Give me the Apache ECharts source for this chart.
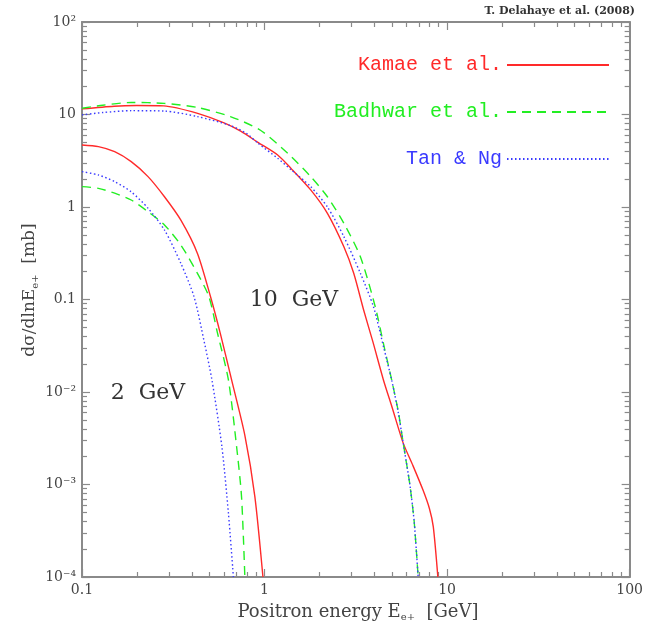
<!DOCTYPE html>
<html><head><meta charset="utf-8">
<script src="https://cdn.jsdelivr.net/npm/echarts@6/dist/echarts.min.js"></script>
<style>html,body{margin:0;padding:0;background:#fff}#c{width:646px;height:636px}</style>
</head><body><div id="c"></div>
<script>
// ---- axis ticks ----
const xTicks = [0.1, 1, 10, 100];
const xTickLabels = ['0.1', '1', '10', '100'];
const yTicks = [1e-4, 1e-3, 1e-2, 0.1, 1, 10, 100];
const yTickLabels = ['10⁻⁴', '10⁻³', '10⁻²', '0.1', '1', '10', '10²'];
const xMinorTicks = [0.2, 0.3, 0.4, 0.5, 0.6, 0.7, 0.8, 0.9, 2, 3, 4, 5, 6, 7, 8, 9, 20, 30, 40, 50, 60, 70, 80, 90];
const yMinorTicks = [2e-4, 3e-4, 4e-4, 5e-4, 6e-4, 7e-4, 8e-4, 9e-4, 2e-3, 3e-3, 4e-3, 5e-3, 6e-3, 7e-3, 8e-3, 9e-3,
  0.02, 0.03, 0.04, 0.05, 0.06, 0.07, 0.08, 0.09, 0.2, 0.3, 0.4, 0.5, 0.6, 0.7, 0.8, 0.9,
  2, 3, 4, 5, 6, 7, 8, 9, 20, 30, 40, 50, 60, 70, 80, 90];
const legendNames = ['Kamae et al.', 'Badhwar et al.', 'Tan & Ng'];

// ---- 10 GeV proton ----
const kamae10E = [0.1, 0.15, 0.2, 0.28, 0.43, 0.6, 0.74, 0.92, 1.18, 1.4, 1.79, 2.21, 2.72, 3.08, 3.49, 3.92, 4.48, 5.0, 5.75, 6.5, 7.38, 8.0, 8.4, 8.9];
const kamae10V = [11.5, 12.3, 12.5, 12.4, 10.3, 8.1, 6.6, 5.0, 3.65, 2.6, 1.53, 0.855, 0.372, 0.192, 0.077, 0.035, 0.0135, 0.0068, 0.0028, 0.0016, 0.00087, 0.00055, 0.00035, 0.0001];
const badhwar10E = [0.1, 0.13, 0.186, 0.282, 0.429, 0.65, 0.945, 1.34, 1.79, 2.21, 2.72, 3.35, 4.04, 4.56, 4.97, 5.4, 5.75, 6.25, 6.6, 6.94];
const badhwar10V = [11.7, 12.6, 13.5, 13.2, 11.9, 9.5, 6.8, 3.81, 2.13, 1.29, 0.667, 0.29, 0.0836, 0.0285, 0.0135, 0.0062, 0.0028, 0.001, 0.0004, 0.0001];
const tan10E = [0.1, 0.13, 0.186, 0.282, 0.429, 0.65, 0.8, 0.92, 1.18, 1.4, 1.79, 2.21, 2.72, 3.35, 3.95, 4.5, 4.97, 5.4, 5.75, 6.25, 6.6, 6.94];
const tan10V = [9.9, 10.5, 11.0, 10.9, 9.5, 7.6, 6.2, 4.9, 3.36, 2.52, 1.66, 1.0, 0.478, 0.192, 0.0836, 0.03, 0.0135, 0.006, 0.0028, 0.001, 0.0004, 0.0001];

// ---- 2 GeV proton ----
const kamae2E = [0.1, 0.123, 0.151, 0.186, 0.23, 0.283, 0.348, 0.429, 0.506, 0.574, 0.66, 0.78, 0.885, 0.98];
const kamae2V = [4.68, 4.49, 3.96, 3.09, 2.13, 1.29, 0.72, 0.315, 0.107, 0.042, 0.0135, 0.0034, 0.00074, 0.0001];
const badhwar2E = [0.1, 0.123, 0.151, 0.186, 0.23, 0.283, 0.348, 0.429, 0.496, 0.55, 0.634, 0.703, 0.748, 0.78];
const badhwar2V = [1.66, 1.59, 1.41, 1.19, 0.89, 0.64, 0.388, 0.192, 0.107, 0.045, 0.0135, 0.00256, 0.00074, 0.0001];
const tan2E = [0.1, 0.123, 0.151, 0.186, 0.23, 0.283, 0.348, 0.411, 0.465, 0.515, 0.584, 0.634, 0.675];
const tan2V = [2.41, 2.22, 1.88, 1.46, 0.97, 0.564, 0.246, 0.107, 0.0365, 0.0135, 0.00256, 0.00049, 0.0001];

const RED = '#ff2a2a', GREEN = '#22ee22', BLUE = '#3a3aff';
const FONT = 'DejaVu Serif';
const MONO = 'Liberation Mono';
const axisGray = '#8a8a8a';
const pairs = (e, v) => e.map((x, i) => [x, v[i]]);

const styles = {
  'Kamae et al.': { color: RED, type: 'solid' },
  'Badhwar et al.': { color: GREEN, type: [9, 6] },
  'Tan & Ng': { color: BLUE, type: [1.5, 2.5] }
};
function mk(name, e, v) {
  const s = styles[name];
  return { type: 'line', name, data: pairs(e, v), showSymbol: false, symbol: 'none',
    xAxisIndex: 0, yAxisIndex: 0, smooth: 0.25,
    lineStyle: { color: s.color, width: 1.4, type: s.type }, itemStyle: { color: s.color }, z: 3 };
}

const chart = echarts.init(document.getElementById('c'), null, { renderer: 'canvas' });
const lbl = (ticks, labels) => v => { const i = ticks.findIndex(t => Math.abs(Math.log10(t) - Math.log10(v)) < 1e-6); return i >= 0 ? labels[i] : ''; };
const baseAxis = (pos, show, ticks, labels) => ({
  type: 'log', logBase: 10, position: pos,
  axisLine: { onZero: false, lineStyle: { color: axisGray, width: 2 } },
  axisTick: { inside: true, length: 8, lineStyle: { color: axisGray, width: 1.2 } },
  splitLine: { show: false },
  axisLabel: show ? { margin: 6, fontFamily: FONT, fontSize: 14, color: '#444', formatter: lbl(ticks, labels) } : { show: false }
});
// auxiliary axes in decade units carrying only the 2..9 minor ticks
const minorAxis = (pos, min, max, values) => ({
  type: 'value', position: pos, min, max, offset: 0,
  axisLine: { show: false, onZero: false },
  axisTick: { show: true, inside: true, length: 5, customValues: values.map(v => Math.log10(v)), lineStyle: { color: axisGray, width: 1.2 } },
  axisLabel: { show: false }, splitLine: { show: false }
});
const opt = {
  animation: false,
  grid: { left: 82, right: 10, top: 22, bottom: 59 },
  xAxis: [
    Object.assign(baseAxis('bottom', true, xTicks, xTickLabels), { min: 0.1, max: 100 }),
    Object.assign(baseAxis('top', false), { min: 0.1, max: 100 }),
    minorAxis('bottom', -1, 2, xMinorTicks),
    minorAxis('top', -1, 2, xMinorTicks)
  ],
  yAxis: [
    Object.assign(baseAxis('left', true, yTicks, yTickLabels), { min: 1e-4, max: 100 }),
    Object.assign(baseAxis('right', false), { min: 1e-4, max: 100 }),
    minorAxis('left', -4, 2, yMinorTicks),
    minorAxis('right', -4, 2, yMinorTicks)
  ],
  legend: {
    orient: 'vertical', right: 31, top: 50, align: 'right', itemWidth: 102, itemHeight: 16, itemGap: 27,
    textStyle: { fontFamily: MONO, fontSize: 20 },
    itemStyle: { opacity: 0 },
    data: legendNames.map(n => ({ name: n, textStyle: { color: styles[n].color } })),
    selectedMode: false
  },
  graphic: { elements: [
    { type: 'text', x: 635, y: 11, style: { text: 'T. Delahaye et al. (2008)', font: 'bold 11px "DejaVu Serif"', fill: '#333', align: 'right', verticalAlign: 'middle' } },
    { type: 'text', x: 294, y: 300, style: { text: '10  GeV', font: '22px "DejaVu Serif"', fill: '#333', align: 'center', verticalAlign: 'middle' } },
    { type: 'text', x: 148, y: 393, style: { text: '2  GeV', font: '22px "DejaVu Serif"', fill: '#333', align: 'center', verticalAlign: 'middle' } },
    { type: 'text', x: 358, y: 612, style: {
      text: 'Positron energy E{s|e+}  [GeV]', font: '18px "DejaVu Serif"', fill: '#444', align: 'center', verticalAlign: 'middle',
      rich: { s: { font: '10px "DejaVu Serif"', fill: '#444', padding: [10, 0, 0, 0] } } } },
    { type: 'text', x: 30, y: 290, rotation: Math.PI / 2, style: {
      text: 'dσ/dlnE{s|e+}  [mb]', font: '17px "DejaVu Serif"', fill: '#444', align: 'center', verticalAlign: 'middle',
      rich: { s: { font: '10px "DejaVu Serif"', fill: '#444', padding: [10, 0, 0, 0] } } } }
  ] },
  series: [
    mk('Kamae et al.', kamae10E, kamae10V),
    mk('Badhwar et al.', badhwar10E, badhwar10V),
    mk('Tan & Ng', tan10E, tan10V),
    mk('Kamae et al.', kamae2E, kamae2V),
    mk('Badhwar et al.', badhwar2E, badhwar2V),
    mk('Tan & Ng', tan2E, tan2V)
  ]
};
chart.setOption(opt);
</script>
</body></html>
